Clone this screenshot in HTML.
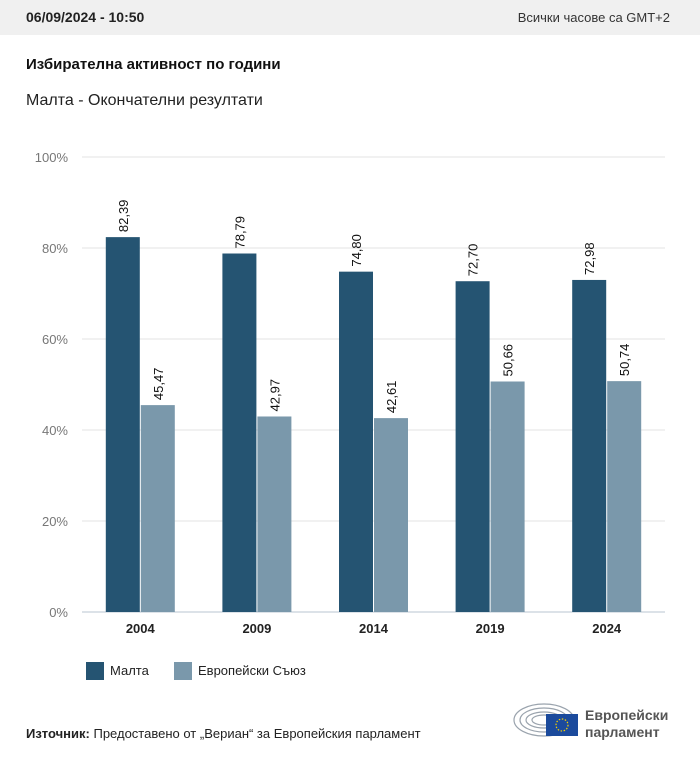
<!DOCTYPE html>
<html><head><meta charset="utf-8"><style>
body{margin:0;width:700px;height:760px;background:#fff;font-family:"Liberation Sans","DejaVu Sans",sans-serif;position:relative;overflow:hidden}
.hdr{position:absolute;left:0;top:0;width:700px;height:35px;background:#f0f0f0}
.abs{position:absolute;white-space:nowrap}
</style></head><body>
<div class="hdr">
<div class="abs" style="left:26px;top:9px;font-size:14px;font-weight:bold;color:#222">06/09/2024 - 10:50</div>
<div class="abs" style="right:30px;top:10px;font-size:13px;color:#333">Всички часове са GMT+2</div>
</div>
<div class="abs" style="left:26px;top:56px;font-size:15px;font-weight:bold;color:#111">Избирателна активност по години</div>
<div class="abs" style="left:26px;top:92px;font-size:16px;color:#222">Малта - Окончателни резултати</div>
<svg id="chart" class="abs" style="left:0;top:0" width="700" height="700"></svg>
<div class="abs" style="left:86px;top:662px;width:18px;height:18px;background:#255472"></div>
<div class="abs" style="left:110px;top:663px;font-size:13px;color:#222">Малта</div>
<div class="abs" style="left:174px;top:662px;width:18px;height:18px;background:#7a98ab"></div>
<div class="abs" style="left:198px;top:663px;font-size:13px;color:#222">Европейски Съюз</div>
<div class="abs" style="left:26px;top:726px;font-size:13px;color:#222"><b>Източник:</b> Предоставено от „Вериан“ за Европейския парламент</div>
<svg class="abs" style="left:512px;top:700px" width="70" height="40">
<g fill="none" stroke="#9aa3ad" stroke-width="1.2">
<ellipse cx="32" cy="20" rx="30" ry="16"/><ellipse cx="32" cy="20" rx="24" ry="12"/><ellipse cx="32" cy="20" rx="18" ry="8"/><ellipse cx="32" cy="20" rx="12" ry="5"/></g>
<rect x="34" y="14" width="32" height="22" fill="#1b4a9c"/>
<circle cx="50" cy="25" r="6" fill="none" stroke="#f5d000" stroke-width="1.2" stroke-dasharray="1.5 1.6"/>
</svg>
<div class="abs" style="left:585px;top:707px;font-size:14px;font-weight:bold;color:#555;line-height:17px">Европейски<br>парламент</div>
<script>
const years=["2004","2009","2014","2019","2024"];
const malta=[82.39,78.79,74.80,72.70,72.98];
const eu=[45.47,42.97,42.61,50.66,50.74];
const ticks=[0,20,40,60,80,100];
const NS="http://www.w3.org/2000/svg";
const svg=document.getElementById("chart");
const y=v=>612-v*4.55;
const x0=82,x1=665,gw=(x1-x0)/years.length;
const gc=i=>x0+gw*(i+0.5);
function mk(t,a,txt){const e=document.createElementNS(NS,t);for(const k in a)e.setAttribute(k,a[k]);if(txt!=null)e.textContent=txt;svg.appendChild(e);return e;}
ticks.forEach(t=>{
const l=mk("line",{x1:x0,x2:x1,y1:y(t),y2:y(t),stroke:t===0?"#b8c4d0":"#e3e3e3","stroke-width":1});


const tx=mk("text",{x:68,y:y(t)+5,"text-anchor":"end","font-size":13,fill:"#777"},t+"%");


});
const fmt=v=>v.toFixed(2).replace(".",",");
years.forEach((yr,i)=>{
const c=gc(i);
[[malta[i],"#255472",c-34.5,"bar-malta"],[eu[i],"#7a98ab",c+0.5,"bar-eu"]].forEach(([v,col,bx,nm])=>{
const r=mk("rect",{x:bx,y:y(v),width:34,height:612-y(v),fill:col});


const lx=bx+17+5,ly=y(v)-5;
const t=mk("text",{x:lx,y:ly,transform:`rotate(-90 ${lx} ${ly})`,"font-size":13,fill:"#111"},fmt(v));


});
const xl=mk("text",{x:c,y:633,"text-anchor":"middle","font-size":13,"font-weight":"bold",fill:"#222"},yr);


});
</script>
</body></html>
